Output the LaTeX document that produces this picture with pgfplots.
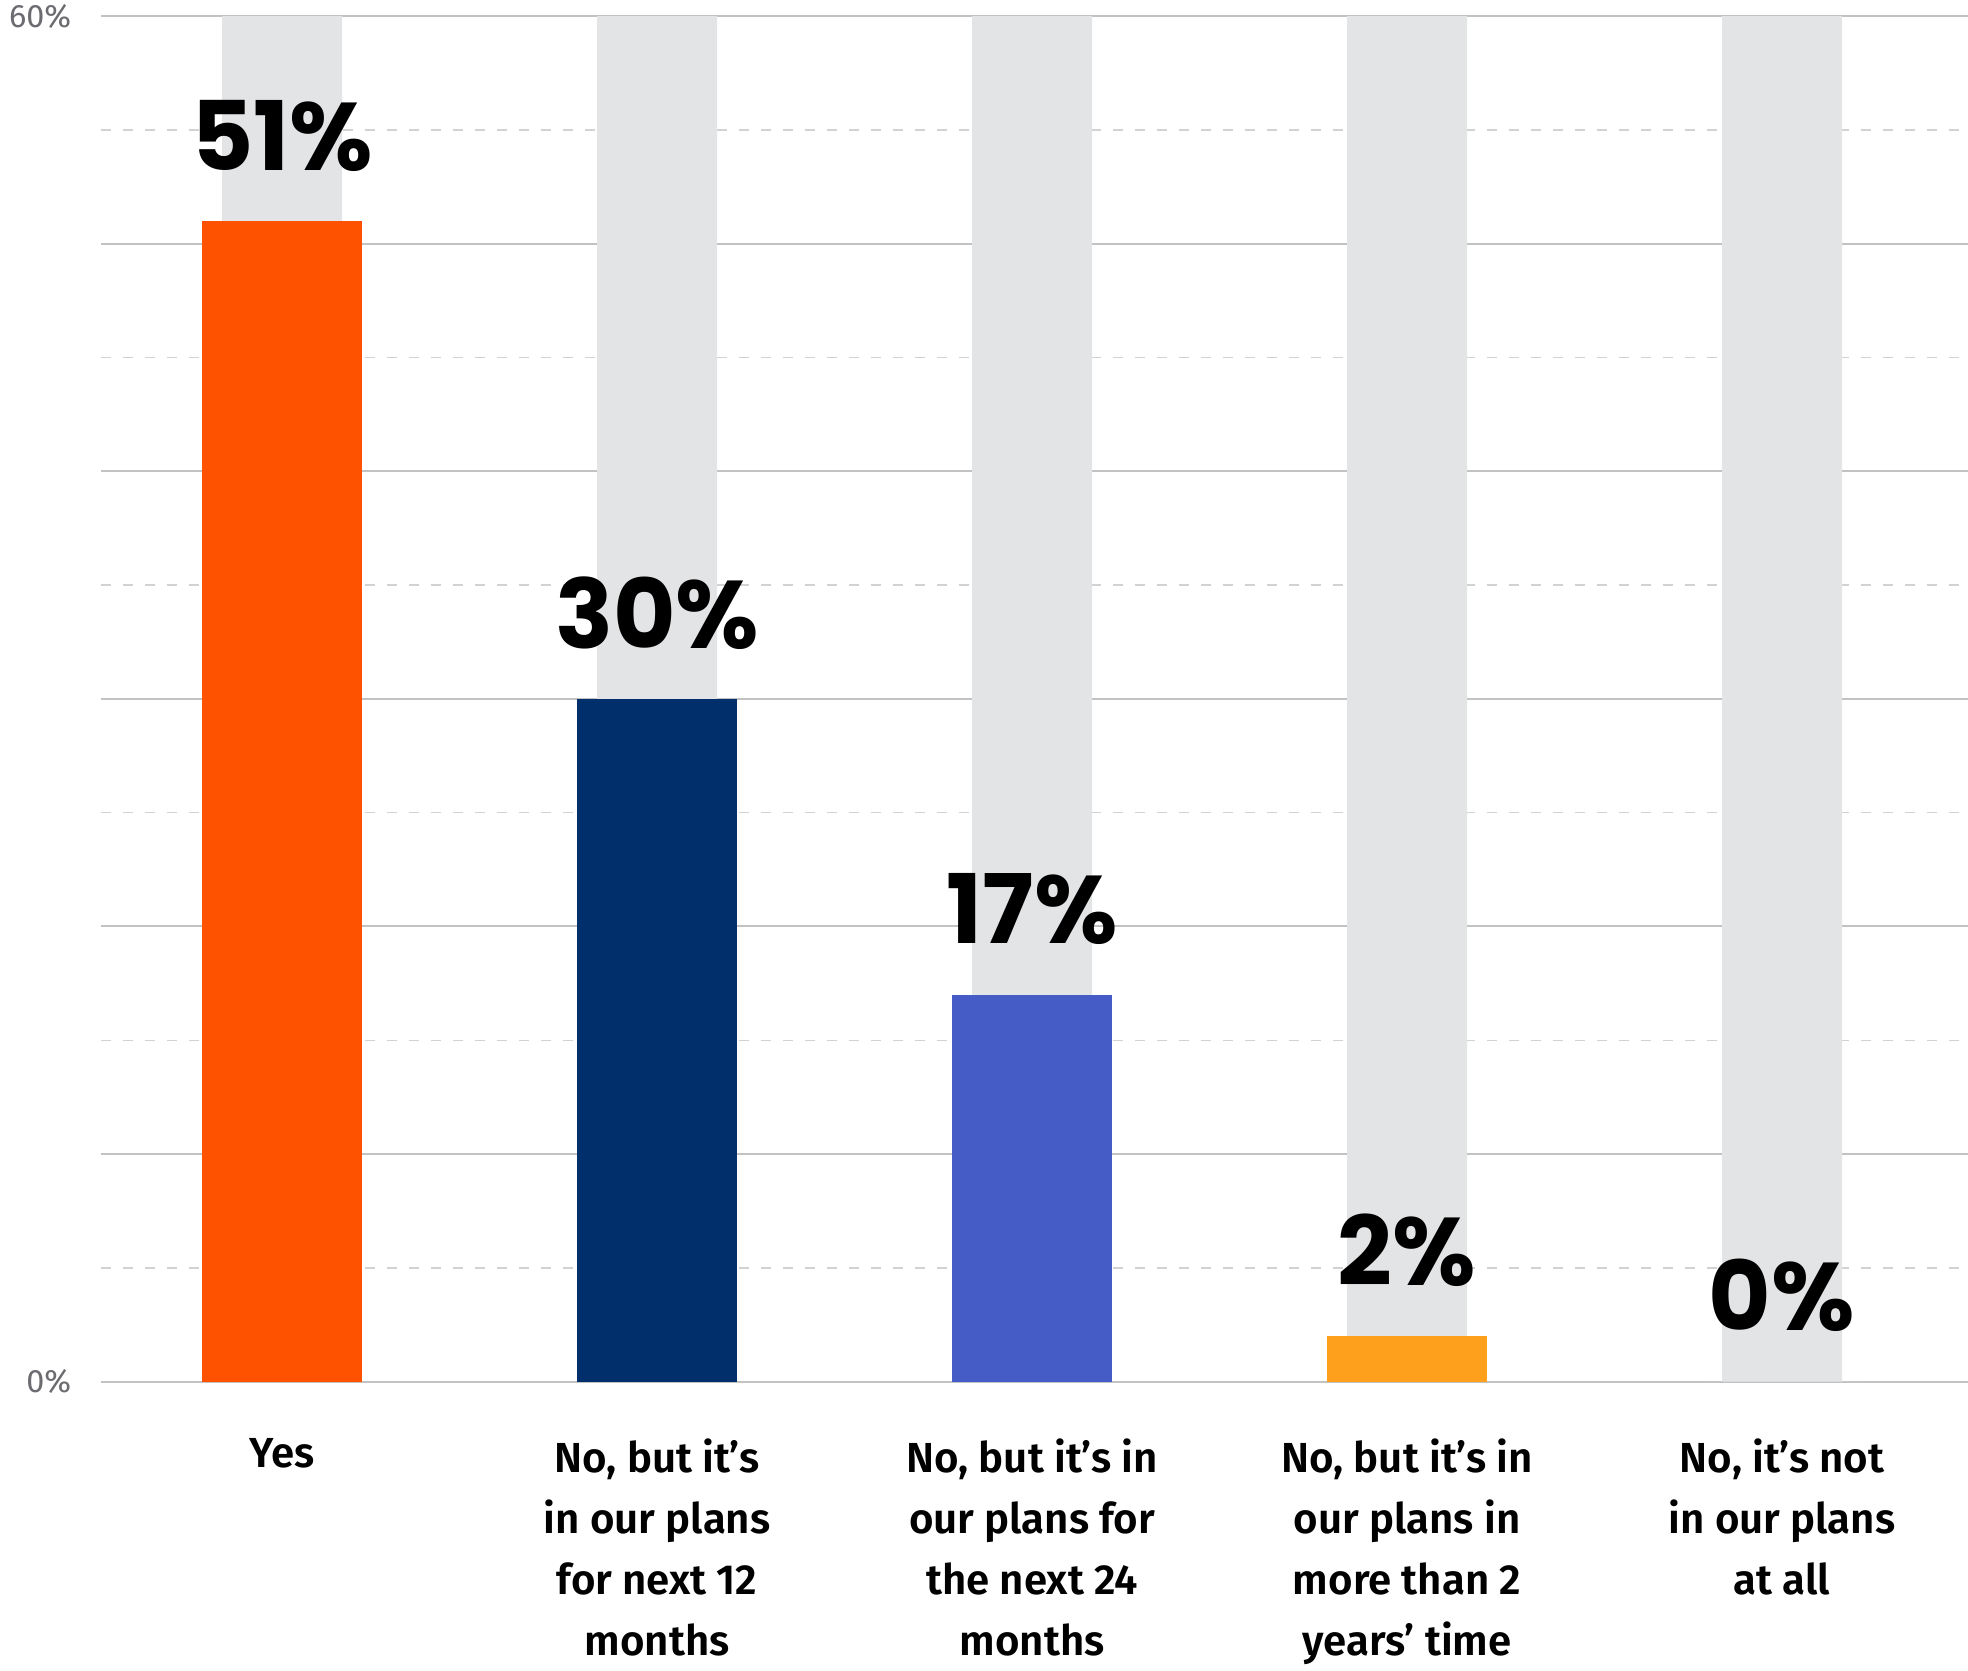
\documentclass[border=0pt]{standalone}
\usepackage{pgfplots}
\pgfplotsset{compat=1.18}
\usepackage{fontspec}
\setmainfont{Fira Sans}
\newfontfamily\valfont{Poppins}
\newfontfamily\catfont{Fira Sans SemiBold}
\definecolor{cOrange}{HTML}{FF5200}
\definecolor{cNavy}{HTML}{002F6C}
\definecolor{cBlue}{HTML}{455CC7}
\definecolor{cAmber}{HTML}{FFA01C}
\definecolor{cGray}{HTML}{E3E4E6}
\definecolor{gridS}{HTML}{C2C2C2}
\definecolor{gridD}{HTML}{D2D2D2}
\definecolor{tickc}{HTML}{6B6B70}
\begin{document}
\begin{tikzpicture}
\useasboundingbox (-25.25pt,-72.3pt) rectangle (466.75pt,345.4pt);
\begin{axis}[
  at={(0,0)}, anchor=south west,
  scale only axis, width=466.75pt, height=341.4pt,
  xmin=-0.483, xmax=4.496, ymin=0, ymax=60,
  axis line style={draw=none},
  tick style={draw=none}, major tick length=0pt, minor tick length=0pt,
  ytick={0,10,20,30,40,50,60},
  yticklabels={0\%,,,,,,60\%},
  minor ytick={5,15,25,35,45,55},
  ymajorgrids, yminorgrids,
  major grid style={gridS, line width=0.5pt},
  minor grid style={gridD, line width=0.35pt, dash pattern=on 2.5pt off 3pt},
  xtick={0,1,2,3,4},
  xticklabels={{Yes},{No, but it’s\\in our plans\\for next 12\\months},{No, but it’s in\\our plans for\\the next 24\\months},{No, but it’s in\\our plans in\\more than 2\\years’ time},{No, it’s not\\in our plans\\at all}},
  xticklabel style={font=\catfont\fontsize{10.5}{15.3}\selectfont, align=center, anchor=north, inner sep=0pt, yshift=-14pt},
  yticklabel style={font=\fontsize{8.1}{9}\selectfont, text=tickc, anchor=east, inner sep=0pt, xshift=-7.25pt},
  every node near coord/.append style={font=\valfont\bfseries\fontsize{24}{26}\selectfont, text=black, anchor=south, inner sep=0pt, text depth=0pt, yshift=12.5pt},
  clip=false,
]
\addplot[ybar, bar width=0.32, bar shift=0pt, fill=cGray, draw=none] coordinates {(0,60) (1,60) (2,60) (3,60) (4,60)};
\addplot[ybar, bar width=0.4267, bar shift=0pt, fill=cOrange, draw=none, nodes near coords, point meta=explicit symbolic] coordinates {(0,51) [51\%]};
\addplot[ybar, bar width=0.4267, bar shift=0pt, fill=cNavy, draw=none, nodes near coords, point meta=explicit symbolic] coordinates {(1,30) [30\%]};
\addplot[ybar, bar width=0.4267, bar shift=0pt, fill=cBlue, draw=none, nodes near coords, point meta=explicit symbolic] coordinates {(2,17) [17\%]};
\addplot[ybar, bar width=0.4267, bar shift=0pt, fill=cAmber, draw=none, nodes near coords, point meta=explicit symbolic] coordinates {(3,2) [2\%]};
\addplot[ybar, bar width=0.4267, bar shift=0pt, fill=cGray, draw=none, nodes near coords, point meta=explicit symbolic] coordinates {(4,0) [0\%]};
\end{axis}
\end{tikzpicture}
\end{document}
